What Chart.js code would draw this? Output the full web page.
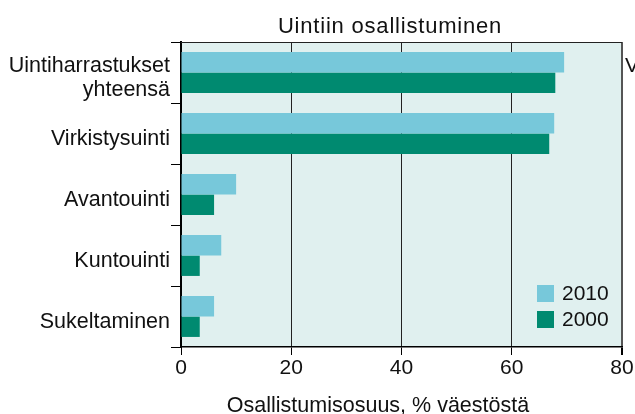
<!DOCTYPE html>
<html>
<head>
<meta charset="utf-8">
<script src="https://cdn.jsdelivr.net/npm/chart.js@4"></script>
<style>
  html, body { margin: 0; padding: 0; background: #fff; }
  #wrap { width: 635px; height: 414px; }
</style>
</head>
<body>
<div id="wrap"><canvas id="chart" width="635" height="414"></canvas></div>
<script>
// Swimming participation, % of population
const categories = [['Uintiharrastukset', 'yhteensä'], 'Virkistysuinti', 'Avantouinti', 'Kuntouinti', 'Sukeltaminen']
const seriesNames = ['2010', '2000']
const values2010 = [69.5, 67.7, 10.0, 7.3, 6.0]
const values2000 = [67.9, 66.8, 6.0, 3.4, 3.4]
const xTicks = [0, 20, 40, 60, 80]

const chartTitle = 'Uintiin osallistuminen'
const xTitle = 'Osallistumisosuus, % väestöstä'

const COLORS = {
  light: '#77c8da',
  dark: '#008a70',
  plotBg: '#e0f0ef',
}
const FONT = '"Liberation Sans", Arial, sans-serif'

// ── plot background, frame, titles, legend ──
const decor = {
  id: 'decor',
  beforeDraw(chart) {
    const { ctx, chartArea: a } = chart
    ctx.save()
    ctx.fillStyle = COLORS.plotBg
    ctx.fillRect(a.left, a.top, a.right - a.left, a.bottom - a.top)
    ctx.restore()
  },
  afterDraw(chart) {
    const { ctx, chartArea: a } = chart
    ctx.save()
    // top frame line
    ctx.strokeStyle = '#222'
    ctx.lineWidth = 1
    ctx.beginPath()
    ctx.moveTo(a.left, a.top + 0.5)
    ctx.lineTo(a.right, a.top + 0.5)
    ctx.stroke()

    // chart title
    ctx.fillStyle = '#111'
    ctx.font = '22px ' + FONT
    ctx.letterSpacing = '0.8px'
    ctx.textAlign = 'center'
    ctx.textBaseline = 'alphabetic'
    ctx.fillText(chartTitle, 390, 33)
    ctx.letterSpacing = '0px'

    // x axis title
    ctx.font = '21.5px ' + FONT
    ctx.fillText(xTitle, 378, 412)

    // cut-off letter of the neighbouring panel
    ctx.font = '21px ' + FONT
    ctx.textAlign = 'left'
    ctx.fillText('V', 625, 72)

    // legend inside plot, bottom right
    const lx = a.right - 85
    const ly = a.bottom - 62
    chart.data.datasets.forEach((ds, i) => {
      const y = ly + i * 26
      ctx.fillStyle = ds.backgroundColor
      ctx.fillRect(lx, y, 17, 17)
      ctx.fillStyle = '#111'
      ctx.textBaseline = 'middle'
      ctx.fillText(ds.label, lx + 25, y + 9)
    })
    ctx.restore()
  },
}

new Chart(document.getElementById('chart'), {
  type: 'bar',
  data: {
    labels: categories,
    datasets: [
      { label: seriesNames[0], data: values2010, backgroundColor: COLORS.light },
      { label: seriesNames[1], data: values2000, backgroundColor: COLORS.dark },
    ],
  },
  options: {
    indexAxis: 'y',
    responsive: false,
    animation: false,
    layout: { padding: { top: 42, right: 13, left: 0, bottom: 0 } },
    datasets: { bar: { categoryPercentage: 0.67, barPercentage: 1.0, borderWidth: 0 } },
    plugins: {
      legend: { display: false },
      title: { display: false },
      tooltip: { enabled: false },
    },
    scales: {
      x: {
        min: 0,
        max: 80,
        afterBuildTicks: s => { s.ticks = xTicks.map(v => ({ value: v })) },
        afterFit: s => { s.height = 67 },
        border: { color: '#000', width: 1.5 },
        grid: {
          color: c => c.tick && c.tick.value === 80 ? '#555' : (c.tick && c.tick.value === 0 ? 'rgba(0,0,0,0)' : '#222'),
          lineWidth: c => c.tick && c.tick.value === 80 ? 2 : 1,
          tickColor: '#000',
          tickLength: 8,
        },
        ticks: { color: '#111', font: { family: FONT, size: 21 }, padding: 1 },
      },
      y: {
        afterFit: s => { s.width = 181 },
        border: { color: '#000', width: 2 },
        grid: {
          offset: true,
          drawOnChartArea: false,
          color: '#000',
          tickLength: 10,
        },
        ticks: {
          color: '#111',
          font: { family: FONT, size: 21.5, lineHeight: 1.1 },
          padding: 1,
          labelOffset: 5.5,
        },
      },
    },
  },
  plugins: [decor],
})
</script>
</body>
</html>
